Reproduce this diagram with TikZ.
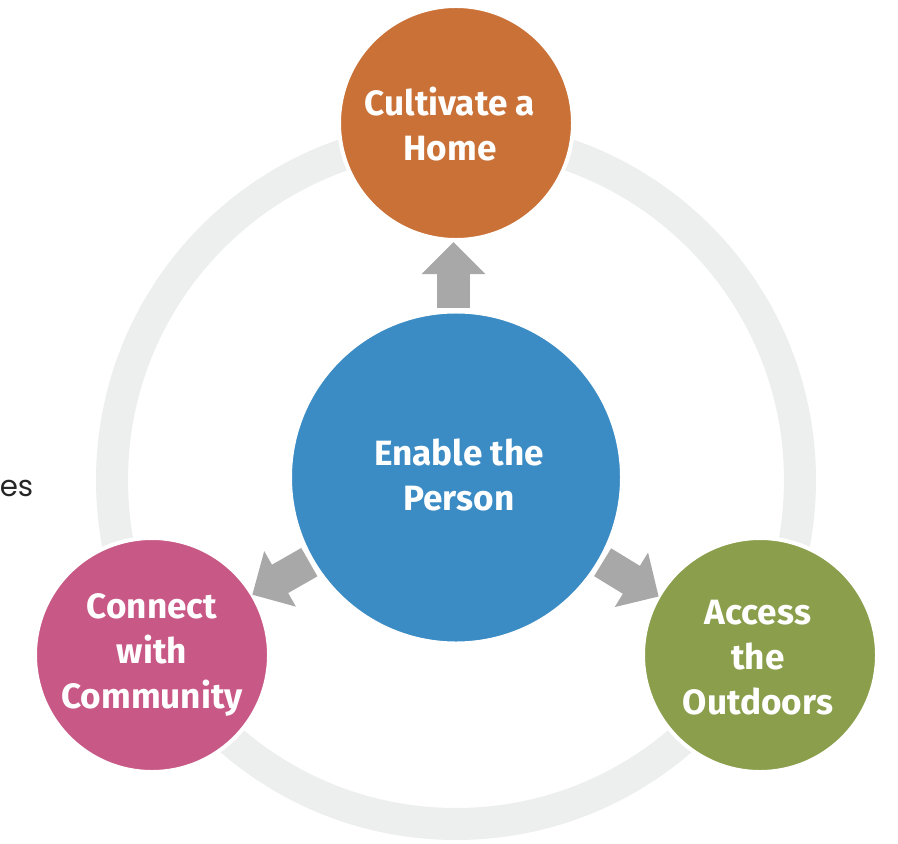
\documentclass[tikz,border=0pt]{standalone}
\usepackage{fontspec}
\setmainfont{Fira Sans}
\newfontfamily\notefont{Poppins}
\usetikzlibrary{arrows.meta}
\definecolor{homecolor}{HTML}{C97137}
\definecolor{personcolor}{HTML}{3B8BC4}
\definecolor{communitycolor}{HTML}{C85885}
\definecolor{outdoorscolor}{HTML}{8A9E4B}
\definecolor{ringcolor}{HTML}{EDEFEE}
\definecolor{flowcolor}{HTML}{A8A8A8}

\begin{document}
\begin{tikzpicture}[x=0.03cm,y=-0.03cm]
			\tikzset{
			every node/.style = {inner sep=0pt,outer sep=0pt},
			disc/.style = {circle,draw=white,line width=0.12cm},
			small/.style = {disc,minimum size=7.02cm},
			caption/.style = {align=center,text=white,font=\fontsize{30}{38.5}\selectfont\bfseries},
			flow/.style = {draw=flowcolor,line width=0.98cm,shorten <=0.1cm,-{Triangle[length=0.96cm,width=1.86cm]}}
		}
		\useasboundingbox (0,0) rectangle (898,844);
		\coordinate (hub) at (456,480);
		\draw [ringcolor,line width=0.96cm] (hub) circle [radius=344];
		\node [disc,fill=personcolor,minimum size=9.96cm] (person) at (456,477.5) {};
		\node [small,fill=homecolor] (home) at (456,123) {};
		\node [small,fill=communitycolor] (community) at (152,655) {};
		\node [small,fill=outdoorscolor] (outdoors) at (760,655) {};
		\node [caption] (persontext) at (459,475) {Enable the\\Person};
		\node [caption] (hometext) at (450,124) {Cultivate a\\Home};
		\node [caption] (communitytext) at (152,655) {Connect\\with\\Community};
		\node [caption] (outdoorstext) at (758,658) {Access\\the\\Outdoors};
		\draw [flow,shorten >=0.06cm] ([xshift=-0.075cm]person.north) -- ([xshift=-0.075cm]home.south);
		\draw [flow] (person.210) -- (community.31);
		\draw [flow] (person.-30) -- (outdoors.150);
		\node [text=black!85,font=\notefont\fontsize{25}{30}\selectfont] (note) at (16.5,488) {es};
		\end{tikzpicture}
\end{document}
